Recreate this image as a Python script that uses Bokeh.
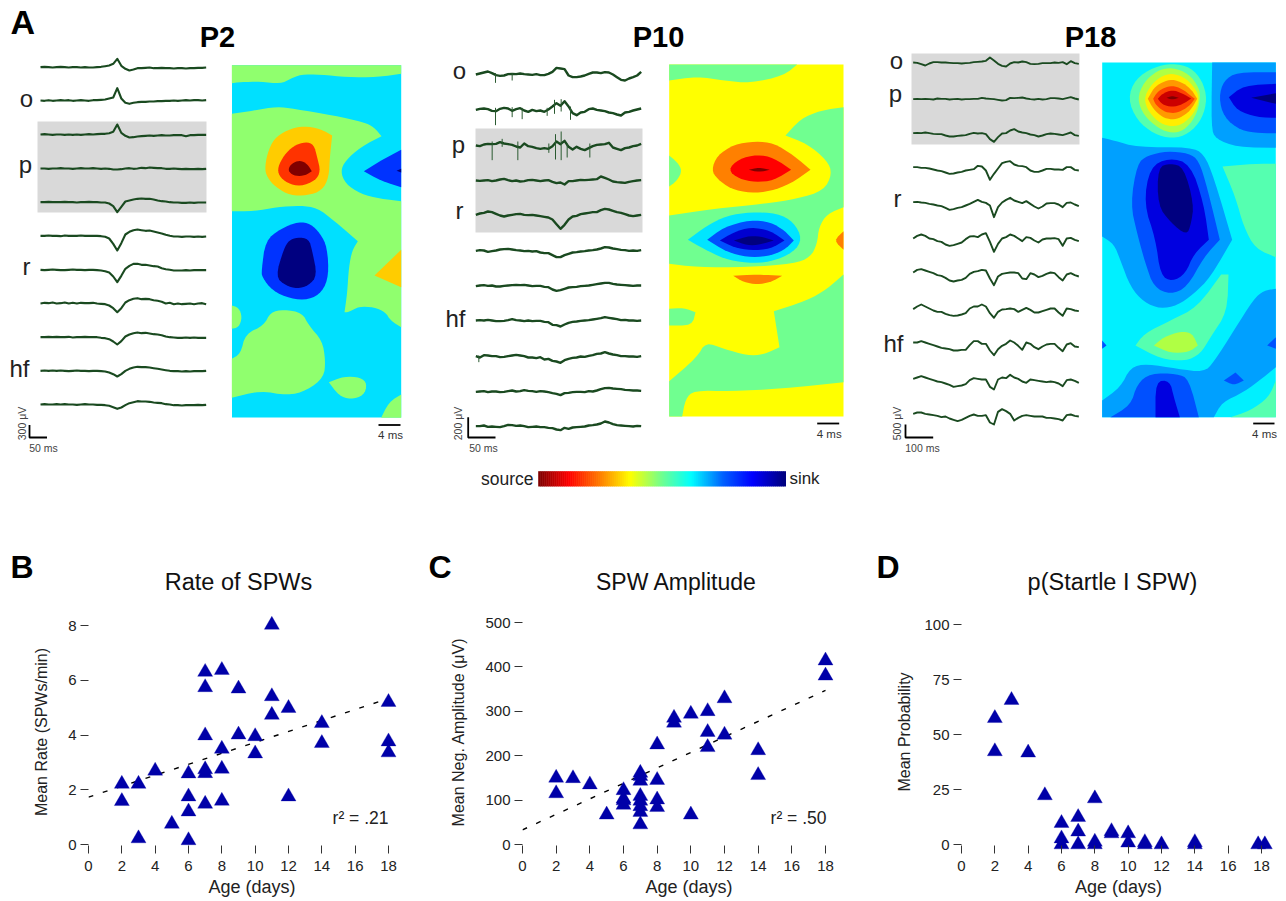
from bokeh.plotting import figure
from bokeh.layouts import column, row
from bokeh.models import Range1d, Label, FixedTicker
from bokeh.core.properties import value
from bokeh.embed import file_html
from bokeh.resources import INLINE
import numpy as np

FONT = "Liberation Sans"

# ---------- Panels B, C, D data ----------
AGE_TICKS = [0, 2, 4, 6, 8, 10, 12, 14, 16, 18]
RATE_TICKS = [0, 2, 4, 6, 8]
AMP_TICKS = [0, 100, 200, 300, 400, 500]
PROB_TICKS = [0, 25, 50, 75, 100]

RATE_AGE = [2, 2, 3, 3, 4, 5, 6, 6, 6, 6, 7, 7, 7, 7, 7, 7, 8, 8, 8, 8, 9, 9, 10, 10, 11, 11, 11, 12, 12, 14, 14, 18, 18, 18]
RATE_VAL = [2.21, 1.58, 2.21, 0.22, 2.69, 0.75, 2.59, 1.75, 1.2, 0.15, 6.3, 5.74, 3.98, 2.74, 2.6, 1.48, 6.37, 3.49, 2.76, 1.59,
            5.69, 4.01, 3.95, 3.32, 8.02, 5.41, 4.73, 4.98, 1.75, 4.43, 3.7, 5.2, 3.76, 3.36]
RATE_FIT_AGE = [0, 18]
RATE_FIT = [1.73, 5.33]

AMP_AGE = [2, 2, 3, 4, 5, 6, 6, 6, 6, 7, 7, 7, 7, 7, 7, 7, 7, 8, 8, 8, 8, 9, 9, 10, 10, 11, 11, 11, 12, 12, 14, 14, 18, 18]
AMP_VAL = [150, 115, 149, 135, 67, 122, 103, 99, 89, 161, 154, 143, 109, 98, 86, 73, 45, 225, 145, 101, 84, 285, 274, 294, 67,
           300, 253, 219, 329, 247, 212, 156, 414, 380]
AMP_FIT_AGE = [0, 18]
AMP_FIT = [33, 347]

PROB_AGE = [2, 2, 3, 4, 5, 6, 6, 6, 7, 7, 7, 8, 8, 8, 9, 9, 10, 10, 11, 11, 12, 14, 14, 17.8, 18.2]
PROB_VAL = [57.4, 42.3, 65.6, 41.7, 22.3, 9.7, 2.7, 0, 12.4, 5.8, 0, 20.9, 1.2, 0, 6, 5, 5, 0.8, 1, 0, 0, 1, 0, 0, 0]

# ---------- Panel A traces (amplitude per channel) ----------
P2_TRACES = [
 [0,1,0,-1,0,1,0,-1,0,0,-1,0,-1,-1,0,1,3,5,10,25,4,-5,-10,-7,-3,-3,-2,-1,-3,-3,-2,-3,-3,-4,-3,-3,-4,-3,-3,-2,-2,-1],
 [0,-1,1,-1,0,1,0,1,-1,0,1,0,-1,1,1,2,3,6,9,37,6,-7,-10,-7,-5,-4,-4,-3,-3,-2,-2,-1,-1,0,-1,0,1,0,1,1,0,1],
 [0,1,0,-1,0,0,-1,0,-1,0,-1,0,1,0,1,2,2,4,8,30,5,-4,-9,-8,-6,-5,-4,-3,-4,-3,-2,-3,-3,-2,-2,-2,-5,-2,-2,-1,-1,-1],
 [0,0,-1,0,0,1,0,0,-1,0,1,0,0,1,0,-1,0,-1,-3,-3,-2,0,1,-1,0,2,1,3,2,1,1,-1,-1,0,-1,-2,-1,-2,-2,-1,-2,-1],
 [0,0,1,0,0,0,1,0,0,-1,0,0,1,0,0,-1,-1,-4,-12,-30,-14,2,5,8,10,11,10,10,8,5,3,2,0,-1,-1,-2,-2,-1,-2,-1,-1,-1],
 [0,0,1,0,0,-1,1,0,0,0,1,0,0,0,0,-1,-3,-8,-24,-44,-22,4,12,17,19,17,15,16,13,10,7,3,0,-2,-2,-3,-2,-2,-3,-2,-3,-2],
 [0,-1,0,1,0,-1,-1,0,1,0,0,-1,0,0,-1,-2,-4,-8,-20,-37,-18,3,12,18,18,15,15,13,11,10,5,2,0,-2,-2,-2,-1,-2,-1,-1,-1,-1],
 [0,2,1,3,0,1,3,0,2,0,2,1,1,2,0,-1,-2,-6,-14,-26,-14,3,10,14,16,13,14,13,10,8,5,0,2,-2,0,-2,-1,0,-2,0,1,-2],
 [0,0,1,0,1,0,0,1,-1,0,0,1,0,0,0,-2,-3,-6,-13,-22,-12,2,8,12,14,12,13,11,9,8,6,2,0,-1,-2,-2,-1,-2,-1,-2,-2,-2],
 [0,1,0,1,0,1,0,-1,0,1,0,0,-1,0,0,-1,-2,-5,-10,-17,-10,0,6,10,12,11,11,10,8,6,4,2,0,-1,-1,-2,-1,-2,-1,-1,-1,0],
 [0,1,0,0,1,0,1,0,0,-1,0,1,0,0,-1,-1,-2,-4,-8,-13,-9,-2,4,7,10,9,9,8,6,5,4,1,0,-2,-2,-3,-2,-2,-2,-1,-2,-1],
]
P10_TRACES = [
 [0,3,6,9,4,-2,-4,-3,1,2,1,3,1,0,-1,1,-2,-2,2,8,20,18,16,-3,-8,-8,-6,-3,2,6,6,4,7,6,0,-8,-16,-18,-12,-8,-3,8],
 [0,3,4,2,-3,-4,3,6,4,-3,2,5,-2,-6,0,-4,-2,-6,1,10,20,12,26,10,-10,-16,-8,-6,2,4,0,-2,-4,-8,-10,-14,-17,-8,-6,-2,1,4],
 [0,-2,3,5,4,5,10,6,4,2,-3,-6,6,-2,-4,-8,-10,-8,-10,-2,12,4,14,-4,-12,-4,-10,-14,-8,-2,2,3,4,8,-6,-10,-14,-8,-6,-2,0,5],
 [0,-1,0,1,-2,0,3,5,1,-2,0,-3,-2,1,2,0,-2,0,1,-4,-8,-6,-12,-2,-2,0,2,1,2,3,4,12,8,3,-3,-5,-6,-7,-4,-2,0,1],
 [0,4,6,10,8,3,-2,-5,-2,0,2,3,0,-1,0,-2,-4,-6,-8,-14,-28,-42,-30,-14,-5,-3,2,4,6,8,8,14,18,16,12,8,6,2,-2,-4,-2,0],
 [-1,1,0,-4,-2,0,3,4,5,3,1,0,-2,-1,-3,-2,-6,-8,-8,-14,-20,-20,-14,-10,-6,-5,-3,-2,0,1,3,6,10,9,6,4,2,1,-1,0,-1,1],
 [-2,0,1,-1,0,-3,-3,-1,0,1,2,1,2,0,-2,-1,-1,-4,-5,-12,-16,-14,-10,-6,-5,-4,-2,-1,0,2,4,6,8,8,5,3,2,1,0,-1,0,0],
 [0,1,0,2,0,-2,-2,-1,1,4,1,0,-2,0,-2,-1,-1,-4,-5,-13,-14,-18,-12,-7,-4,-3,-1,0,1,3,5,7,10,8,6,4,1,2,0,0,-1,0],
 [0,-4,3,2,0,0,-3,-2,0,2,4,2,0,-4,-4,-6,-3,-10,-8,-14,-16,-20,-12,-8,-5,-4,-1,-2,1,3,7,8,12,8,5,3,0,0,-1,-1,-2,0],
 [-2,-1,0,-3,-1,-1,-3,-2,0,2,-1,0,3,1,0,-2,0,-1,-3,-6,-8,-12,-6,-5,-3,-2,-2,-3,0,-1,2,6,9,10,8,7,6,4,3,2,2,1],
 [0,0,2,-2,-1,-2,-3,0,4,3,1,2,0,-3,-2,-1,-3,-3,-5,-6,-10,-12,-5,-8,-4,-3,-2,-1,2,3,5,8,14,11,6,3,2,1,0,-1,1,0],
]
# brief spikes on P10 traces: channel index, time position, low, high
P10_SPIKE_CH = [0, 0, 1, 1, 1, 1, 1, 1, 1, 2, 2, 2, 2, 2, 2, 2, 2, 8]
P10_SPIKE_T = [195, 245, 195, 245, 275, 350, 372, 392, 420, 185, 215, 262, 355, 375, 392, 410, 478, 145]
P10_SPIKE_LO = [-25, -18, -46, -22, -28, -18, -12, -5, -30, -44, -4, -44, -22, -42, -44, -36, -36, -18]
P10_SPIKE_HI = [4, 4, 6, 8, 6, 6, 30, 32, 10, 12, 20, 12, 6, 34, 42, 6, 6, 2]

P18_TRACES = [
 [2,1,-3,-7,-1,3,3,2,2,1,0,0,-1,0,1,3,4,5,7,17,8,-2,-8,-10,-1,3,2,5,3,-2,-3,-2,0,0,0,2,1,3,-3,6,0,-2],
 [0,1,0,1,0,-1,2,1,1,-1,0,1,-1,0,0,1,1,4,2,1,0,-2,-4,-3,4,3,4,5,2,0,-1,1,-1,0,3,3,2,0,3,6,2,-1],
 [6,7,6,8,6,4,3,3,-1,-4,-4,-2,-1,0,4,7,5,6,3,-12,-20,-6,5,6,14,18,11,8,6,2,0,-4,-1,3,5,4,2,0,4,8,0,-2],
 [2,2,0,0,-2,-5,-8,-10,-14,-18,-17,-14,-12,-8,-6,-4,6,4,-8,-36,-18,-2,14,18,20,10,6,5,2,-8,-12,-12,-8,-3,-3,-5,-5,-6,2,2,-6,-8],
 [7,8,6,5,2,0,-3,-5,-10,-16,-14,-10,-8,-3,2,8,14,8,5,-3,-38,-8,6,14,20,12,8,4,10,2,-6,-12,-6,3,4,4,0,-8,5,6,0,-5],
 [6,14,18,14,6,4,-2,-4,-12,-16,-14,-10,-6,4,12,13,10,18,22,-4,-34,-10,6,10,18,14,6,-2,10,8,0,-6,3,6,6,7,4,-16,6,8,2,-2],
 [10,18,20,16,12,8,2,0,-6,-14,-17,-14,-12,-6,6,12,14,18,16,-8,-28,-2,6,8,10,10,8,-8,-10,8,4,-4,0,6,10,8,-4,-14,4,8,2,-2],
 [6,14,20,14,8,2,-2,-2,-8,-12,-14,-13,-10,-6,8,14,14,20,14,-6,-20,-2,5,6,8,6,-2,4,10,4,-4,-4,0,4,8,8,-4,-14,8,6,2,0],
 [14,14,18,14,10,6,2,-2,-4,-6,-10,-10,-8,-8,6,18,18,10,10,-10,-24,-6,4,10,20,14,4,-8,14,10,0,-6,2,8,10,10,-2,-12,8,12,2,0],
 [10,14,18,14,10,6,2,0,-4,-8,-14,-12,-10,-6,6,12,10,8,8,-14,-22,8,14,12,22,14,10,2,-2,8,6,4,2,0,2,0,-4,-12,6,8,4,-2],
 [8,12,12,8,6,4,2,-2,0,-6,-10,-14,-10,-4,2,6,2,2,4,-18,-24,14,22,16,8,-12,-4,2,4,2,0,0,0,-4,-4,-6,-8,-12,4,6,2,0],
]

# channel baselines (in 1/3 px of the source picture)
P2_BASE = [200, 300, 402, 504, 605, 706, 808, 909, 1010, 1111, 1212]
P10_BASE = [222, 328, 435, 540, 643, 750, 855, 960, 1067, 1172, 1277]
P18_BASE = [188, 296, 404, 502, 612, 720, 826, 932, 1040, 1145, 1248]

# ---------- Panel A CSD contours: (colour, outline) in traced 1/3 px units; a third element marks a sharp corner ----------
def S(color, pts):
    return (color, pts)

P2_SHAPES = [
 S("#90ff6e", [(694,194),(1202,194),(1202,220),(1130,230),(1040,230),(960,222),(900,222),(870,235),(840,250),(780,243),(720,245),(694,248)]),
 S("#90ff6e", [(694,340),(760,330),(830,318),(880,325),(1000,345),(1090,365),(1120,380),(1143,407,1),(1080,440),(1035,480),(1020,512),(1035,550),(1080,580),(1140,595),(1202,602),(1202,980),(1170,960),(1155,935),(1120,920),(1075,918),(1045,935),(1032,935,1),(1040,880),(1045,800),(1055,750),(1072,722,1),(1000,660),(950,622),(900,615),(830,620),(760,632),(694,632)]),
 S("#ffcc00", [(910,376),(960,385),(995,405,1),(988,470),(985,530),(965,570),(920,585),(870,585),(825,560),(800,530),(793,505),(800,460),(820,415),(860,388)]),
 S("#ff3300", [(915,424),(940,432),(950,470),(960,512),(945,540),(900,558),(860,548),(835,525),(832,500),(850,465),(880,435)]),
 S("#800000", [(900,480),(920,490),(934,512,1),(915,525),(885,527),(865,515),(865,500),(880,485)]),
 S("#0033ff", [(1202,448),(1150,475),(1090,512,1),(1140,540),(1202,560)]),
 S("#000080", [(1202,505),(1188,511,1),(1202,516)]),
 S("#0033ff", [(895,663),(930,670),(960,700),(980,740),(985,825),(965,875),(925,898),(870,895),(815,870),(785,830),(783,810),(795,720),(840,685)]),
 S("#000080", [(890,710),(925,715),(935,750),(950,825),(925,855),(890,865),(855,855),(825,828),(850,745),(865,720)]),
 S("#ffcc00", [(1202,748),(1122,825,1),(1202,860)]),
 S("#90ff6e", [(694,915),(715,922),(725,950),(715,980),(694,985)]),
 S("#90ff6e", [(694,1075),(720,1060),(735,1000),(790,975),(810,935),(850,927),(905,937),(925,975),(965,1020),(975,1080),(970,1130),(920,1170),(860,1185),(780,1170),(694,1192)]),
 S("#90ff6e", [(985,1145,1),(1030,1128),(1080,1130),(1100,1150),(1090,1185),(1050,1197),(1015,1185)]),
 S("#90ff6e", [(1142,1252),(1165,1205),(1202,1182),(1202,1252)]),
]
P10_SHAPES = [
 S("#70ff90", [(716,192),(1100,192),(1060,225),(960,248),(880,240),(800,228),(716,240)]),
 S("#70ff90", [(1239,320),(1170,330),(1110,355),(1065,405,1),(1130,430),(1190,480),(1205,520),(1180,570),(1100,595),(1000,610),(850,625),(716,645),(716,790),(800,800),(950,800),(1090,790),(1140,770),(1160,730),(1165,680),(1190,640),(1239,620)]),
 S("#70ff90", [(716,465),(740,485),(755,510),(740,540),(716,558)]),
 S("#ff8000", [(975,422),(1030,428),(1090,465),(1140,508,1),(1080,550),(1020,572),(960,578),(900,565),(860,535),(843,508),(860,465),(910,432)]),
 S("#ff0000", [(980,462),(1030,472),(1082,508,1),(1030,540),(975,545),(925,535),(892,508),(925,475)]),
 S("#800000", [(985,501),(1018,508,1),(985,515),(955,508,1)]),
 S("#00e5ff", [(960,635),(1040,638),(1090,665),(1115,715),(1090,755),(1020,785),(950,788),(880,775),(820,745),(772,718,1),(830,675),(890,645)]),
 S("#0050ff", [(960,658),(1020,665),(1062,690),(1090,720,1),(1060,750),(1010,768),(950,770),(890,755),(830,718,1),(880,680)]),
 S("#0000d0", [(960,680),(1020,690),(1062,720,1),(1020,745),(960,750),(910,740),(868,720,1),(910,695)]),
 S("#000080", [(960,705),(1000,710),(1030,720,1),(990,732),(950,735),(910,720,1)]),
 S("#ff8000", [(1239,692),(1210,720),(1239,748)]),
 S("#ff8000", [(908,826,1),(980,822),(1055,826,1),(1020,845),(980,852),(940,845)]),
 S("#70ff90", [(1239,822),(1190,865),(1130,900),(1030,932,1),(1047,1040,1),(1000,1062),(950,1065),(880,1045),(825,1025),(800,1070),(716,1142),(716,1248),(755,1248),(765,1195),(790,1170),(900,1172),(1050,1165),(1239,1145)]),
 S("#70ff90", [(716,925),(760,922),(795,935,1),(785,975),(716,975)]),
]
P18_SHAPES = [
 S("#00a0ff", [(1055,186),(1246,186),(1246,442),(1130,440),(1065,415),(1052,380)]),
 S("#0050ff", [(1246,215),(1130,215),(1090,240),(1075,290),(1090,350),(1140,390),(1200,398),(1246,398)]),
 S("#0000e0", [(1246,250),(1150,255),(1105,290,1),(1130,330),(1190,350),(1246,352)]),
 S("#000080", [(1246,278),(1172,292,1),(1246,310)]),
 S("#55ffb0", [(935,188),(990,200),(1025,240),(1040,295),(1025,355),(985,400),(935,415),(880,400),(830,360),(802,295),(825,235),(880,200)]),
 S("#b0ff44", [(935,200),(985,220),(1015,260),(1020,295),(1005,350),(970,390),(935,398),(895,385),(850,345),(830,295),(850,245),(890,210)]),
 S("#ffee00", [(935,218),(975,232),(1005,265),(1017,295),(1000,340),(965,372),(935,378),(900,370),(865,335),(850,295),(870,255),(900,228)]),
 S("#ff9900", [(935,236),(970,248),(995,270),(1010,295,1),(990,330),(960,352),(935,358),(905,350),(878,325),(862,295,1),(880,262),(905,245)]),
 S("#ff4400", [(935,255),(965,265),(990,285),(1003,295,1),(985,318),(955,335),(935,338),(910,333),(885,312),(878,295,1),(890,275),(910,262)]),
 S("#cc0000", [(935,268),(965,278),(992,294,1),(965,312),(935,320),(905,312),(892,295,1),(905,280)]),
 S("#800000", [(935,286),(955,292,1),(935,298),(918,292,1)]),
 S("#00a0ff", [(725,412),(760,420),(830,440),(990,440),(1030,460),(1060,530),(1115,718,1),(1050,830),(1000,880),(950,915),(900,925),(850,905),(810,860),(780,780),(760,730),(725,708)]),
 S("#0050ff", [(920,452),(985,458),(1015,480),(1040,560),(1078,718,1),(1030,770),(980,860),(930,882),(880,860),(855,790),(830,700),(810,610),(830,490),(860,465)]),
 S("#0000e0", [(925,472),(990,490),(1030,610),(1045,718,1),(1000,760),(975,820),(935,843),(900,825),(885,715),(850,610),(868,500)]),
 S("#000080", [(930,488),(970,500),(1000,610),(992,670),(978,705),(930,665),(892,615),(892,500)]),
 S("#55ffb0", [(1246,490),(1180,490),(1086,498,1),(1125,590),(1150,680),(1185,745),(1246,770)]),
 S("#55ffb0", [(1082,822,1),(1104,822,1),(1100,935),(1050,1010),(1020,1060),(975,1082),(900,1075),(825,1035,1),(850,1000),(930,960),(1010,920)]),
 S("#b0ff44", [(960,992),(995,998),(1012,1035,1),(985,1055),(930,1058),(880,1035,1),(910,1010)]),
 S("#0050ff", [(725,1020),(738,1035,1),(725,1045)]),
 S("#00a0ff", [(1246,865),(1210,870),(1180,895),(1120,990),(1060,1085),(1030,1115),(950,1105),(860,1090),(810,1100),(780,1160),(725,1200),(725,1250),(1060,1250),(1085,1205),(1150,1175),(1210,1130),(1246,1100)]),
 S("#0050ff", [(1246,1010),(1220,1035,1),(1246,1045)]),
 S("#0050ff", [(870,1118),(950,1120),(985,1135),(1015,1250),(750,1250),(810,1215),(830,1150)]),
 S("#0000e0", [(885,1142),(928,1140),(940,1190),(958,1250),(885,1250)]),
 S("#0050ff", [(1125,1116,1),(1150,1140,1),(1120,1155),(1090,1140,1)]),
 S("#55ffb0", [(1110,1250),(1170,1230),(1225,1190),(1246,1140),(1246,1250)]),
]

COLORBAR_STOPS = [0, .12, .25, .37, .5, .62, .75, .87, 1]
COLORBAR_RGB = [(128,0,0),(255,0,0),(255,128,0),(255,255,0),(112,255,144),(0,255,255),(0,96,255),(0,0,255),(0,0,128)]

TOP_H = 605
PAGE_W = 1285
FIG_BOTTOM = 900

# ---------- Panel A figure, in the page's pixel frame ----------
top = figure(width=PAGE_W, height=TOP_H, x_range=Range1d(0, PAGE_W), y_range=Range1d(TOP_H, 0),
             x_axis_type=None, y_axis_type=None, output_backend="svg", toolbar_location=None,
             min_border=0, outline_line_color=None)
top.grid.visible = False

def ptext(x, y, t, size, color="#111111", style="normal", align="center", base="middle", angle=0):
    top.text(x=[x], y=[y], text=[t], text_font=value(FONT), text_font_size=f"{size}px", text_color=color,
             text_font_style=style, text_align=align, text_baseline=base, angle=angle)

def btext(x, y, t, size, color, style="normal", align="center"):
    # y is the letters' baseline on the page; the glyph is placed by its middle
    ptext(x, y - 0.38 * size, t, size, color, style, align, "alphabetic")

def smooth(pts, box, rounds=2):
    """Round the traced outline's corners; corners on the map edge or marked sharp stay."""
    P = [tuple(p) for p in pts]
    for _ in range(rounds):
        out = []
        n = len(P)
        for i in range(n):
            p = P[i]
            fixed = len(p) == 3 or p[0] in box[:2] or p[1] in box[2:]
            if fixed:
                out.append(p)
                continue
            a, b = P[i - 1], P[(i + 1) % n]
            out.append((0.75 * p[0] + 0.25 * a[0], 0.75 * p[1] + 0.25 * a[1]))
            out.append((0.75 * p[0] + 0.25 * b[0], 0.75 * p[1] + 0.25 * b[1]))
        P = out
    return [q[0] for q in P], [q[1] for q in P]

def panel(ox, bg, shapes, map_box, zoom_box, gray, bases, traces, trace_x, lw):
    top.quad(left=[gray[0]], right=[gray[1]], top=[gray[2]], bottom=[gray[3]], fill_color="#d9d9d9", line_color=None)
    for base, vals in zip(bases, traces):
        xs = np.linspace(trace_x[0], trace_x[1], len(vals))
        top.line(xs / 3 + ox, (base - np.array(vals)) / 3, line_color="#1a4a20", line_width=lw, line_join="round")
    top.quad(left=[map_box[0]], right=[map_box[1]], top=[map_box[2]], bottom=[map_box[3]], fill_color=bg, line_color=None)
    sm = [smooth(s[1], zoom_box) for s in shapes]
    top.patches([list(np.array(q[0]) / 3 + ox) for q in sm], [list(np.array(q[1]) / 3) for q in sm],
                fill_color=[s[0] for s in shapes], line_color=None)

panel(0, "#00e0ff", P2_SHAPES, (231.5, 400.7, 64.7, 417), (694, 1202, 194, 1252), (37, 206, 121, 212), P2_BASE, P2_TRACES, (120, 617), 2.1)
panel(430, "#ffff00", P10_SHAPES, (668.7, 843, 64, 416), (716, 1239, 192, 1248), (475, 642, 128, 232), P10_BASE, P10_TRACES, (136, 632), 2.4)
panel(860, "#00f0ff", P18_SHAPES, (1101.7, 1275.3, 62, 416.7), (725, 1246, 186, 1250), (911, 1079, 53, 144), P18_BASE, P18_TRACES, (158, 655), 1.9)

spike_base = np.array([P10_BASE[c] for c in P10_SPIKE_CH])
top.segment(x0=np.array(P10_SPIKE_T) / 3 + 430, x1=np.array(P10_SPIKE_T) / 3 + 430,
            y0=(spike_base - np.array(P10_SPIKE_LO)) / 3, y1=(spike_base - np.array(P10_SPIKE_HI)) / 3,
            line_color="#2a5a30", line_width=1)

btext(10, 34, "A", 34, "black", "bold", "left")
for x, t in [(217, "P2"), (658, "P10"), (1090, "P18")]:
    btext(x, 48, t, 29, "black", "bold", "center")

LAYER_LABELS = [(26,107,"o"),(25,173,"p"),(26,275,"r"),(19,377,"hf"),
                (459,79,"o"),(458,153,"p"),(459,219,"r"),(455,327,"hf"),
                (896,69,"o"),(895,102,"p"),(897,207,"r"),(893,352,"hf")]
for x, y, t in LAYER_LABELS:
    btext(x, y, t, 24, "#222222", "normal", "center")

SCALE_BARS = [
    (29, 424.5, 437, 46.5, "300 \u03bcV", "50 ms", 43, 21, 378, 400, 424.5, 390, 434),
    (467.7, 416.7, 437, 495, "200 \u03bcV", "50 ms", 483, 457, 816.7, 838.7, 423, 828.7, 433),
    (905, 424, 437, 932.7, "500 \u03bcV", "100 ms", 922, 896, 1252.7, 1274, 423, 1264, 433),
]
for cx, yt, cy, xr, uv, ms, mx, ux, l4, r4, y4, t4x, t4y in SCALE_BARS:
    top.line([cx, cx, xr], [yt, cy, cy], line_color="black", line_width=1.8)
    top.line([l4, r4], [y4, y4], line_color="black", line_width=1.8)
    ptext(ux, 423, uv, 10.5, "#444444", angle=np.pi / 2)
    ptext(mx, 447.5, ms, 10.5, "#444444")
    ptext(t4x, t4y, "4 ms", 11.5, "#333333")

cb_edges = np.linspace(537.7, 785, 125)
cb_frac = np.linspace(0, 1, 124)
cb_cols = ["#%02x%02x%02x" % tuple(int(np.interp(f, COLORBAR_STOPS, [c[i] for c in COLORBAR_RGB])) for i in range(3))
           for f in cb_frac]
top.quad(left=cb_edges[:-1], right=cb_edges[1:] + 0.5, top=470.7, bottom=486, fill_color=cb_cols, line_color=None)
ptext(506.7, 478, "source", 17.5, "#222222")
ptext(804, 478, "sink", 17, "#222222")

PANEL_TITLES = [(238, "Rate of SPWs", 23.5), (676, "SPW Amplitude", 23), (1112, "p(Startle I SPW)", 23.5)]
for x, t, size in PANEL_TITLES:
    btext(x, 590, t, size, "#111111", "normal", "center")
for x, t in [(10, "B"), (428, "C"), (876, "D")]:
    btext(x, 579, t, 32, "black", "bold", "left")

# ---------- Scatter panels ----------
FRAME_TOP, FRAME_BOTTOM, ZERO_Y = 610, 853, 844

def scatter_panel(fig_x0, fig_x1, x0, frame_x1, px_per_age, px_per_y, age, val, fit_age, fit,
                  yticks, ylabel, ylab_standoff, r2):
    fig = figure(width=fig_x1 - fig_x0, height=FIG_BOTTOM - TOP_H,
                 x_range=Range1d(0, (frame_x1 - x0) / px_per_age),
                 y_range=Range1d(-(FRAME_BOTTOM - ZERO_Y) / px_per_y, (ZERO_Y - FRAME_TOP) / px_per_y),
                 output_backend="svg", toolbar_location=None, outline_line_color=None,
                 min_border_left=x0 - fig_x0, min_border_right=fig_x1 - frame_x1,
                 min_border_top=FRAME_TOP - TOP_H, min_border_bottom=FIG_BOTTOM - FRAME_BOTTOM)
    fig.grid.visible = False
    for ax, ticks, lab in ((fig.xaxis[0], AGE_TICKS, "Age (days)"), (fig.yaxis[0], yticks, ylabel)):
        ax.ticker = FixedTicker(ticks=ticks)
        ax.axis_line_color = None
        ax.minor_tick_line_color = None
        ax.major_tick_line_color = "#333333"
        ax.major_tick_line_width = 1
        ax.major_label_text_font = FONT
        ax.major_label_text_font_size = "15px"
        ax.major_label_text_color = "#222222"
        ax.axis_label = lab
        ax.axis_label_text_font = FONT
        ax.axis_label_text_font_style = "normal"
        ax.axis_label_text_color = "#222222"
    fig.xaxis[0].axis_label_text_font_size = "18px"
    fig.yaxis[0].axis_label_text_font_size = "16px"
    fig.xaxis[0].major_tick_in = 8
    fig.xaxis[0].major_tick_out = 0
    fig.xaxis[0].major_label_standoff = 7
    fig.xaxis[0].axis_label_standoff = 3
    fig.yaxis[0].major_tick_in = 0
    fig.yaxis[0].major_tick_out = 8
    fig.yaxis[0].major_label_standoff = 4
    fig.yaxis[0].axis_label_standoff = ylab_standoff
    if fit_age:
        fig.line(fit_age, fit, line_color="black", line_width=1.4, line_dash="5 10")
    fig.scatter(age, val, marker="triangle", size=15, fill_color="#0000a8", line_color="#0000a8", line_width=0.3)
    if r2:
        fig.add_layout(Label(x=r2[1] - fig_x0, y=r2[2] - TOP_H, x_units="canvas", y_units="canvas", text=r2[0],
                             text_font=FONT, text_font_size="17.5px", text_color="#222222",
                             text_align="right", text_baseline="alphabetic"))
    return fig

fb = scatter_panel(0, 425, 88, 415, 300 / 18, 219 / 8, RATE_AGE, RATE_VAL, RATE_FIT_AGE, RATE_FIT,
                   RATE_TICKS, "Mean Rate (SPWs/min)", 15, ("r\u00b2 = .21", 388, 817))
fc = scatter_panel(425, 870, 522, 855, 303 / 18, 222 / 500, AMP_AGE, AMP_VAL, AMP_FIT_AGE, AMP_FIT,
                   AMP_TICKS, "Mean Neg. Amplitude (\u03bcV)", 15, ("r\u00b2 = .50", 826, 817))
fd = scatter_panel(870, PAGE_W, 961, 1275, 300 / 18, 220 / 100, PROB_AGE, PROB_VAL, None, None,
                   PROB_TICKS, "Mean Probability", 8, None)

page = column(top, row(fb, fc, fd, spacing=0), spacing=0)
open("out.html", "w").write(file_html(page, INLINE))
